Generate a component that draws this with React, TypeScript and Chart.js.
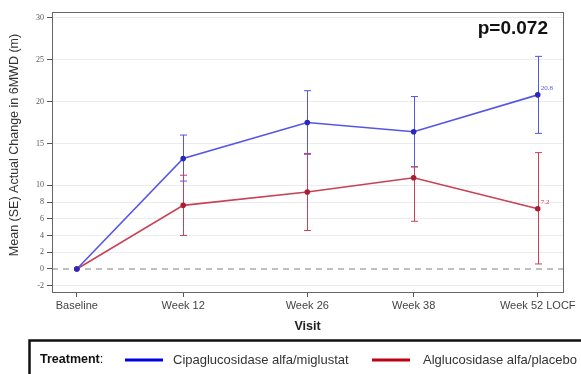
import React, { useEffect, useRef } from 'react';
import { Chart, registerables } from 'chart.js';

Chart.register(...registerables);

const visitWeeks = [0, 12, 26, 38, 52];
const visitLabels = ['Baseline', 'Week 12', 'Week 26', 'Week 38', 'Week 52 LOCF'];
const yTickValues = [-2, 0, 2, 4, 6, 8, 10, 15, 20, 25, 30];

const cipaMean = [0, 13.2, 17.5, 16.4, 20.8];
const cipaLow = [0, 10.5, 13.7, 12.2, 16.2];
const cipaHigh = [0, 16.0, 21.3, 20.6, 25.4];

const algluMean = [0, 7.6, 9.2, 10.9, 7.2];
const algluLow = [0, 4.0, 4.6, 5.7, 0.6];
const algluHigh = [0, 11.2, 13.8, 12.2, 13.9];

const seriesNames = ['Cipaglucosidase alfa/miglustat', 'Alglucosidase alfa/placebo'];
const endLabels = ['20.8', '7.2'];
const pValueText = 'p=0.072';

const BLUE_LINE = 'rgb(85,85,230)';
const BLUE_POINT = 'rgb(40,40,190)';
const RED_LINE = 'rgb(200,65,85)';
const RED_POINT = 'rgb(170,30,50)';

export default function App() {
  const ref = useRef<HTMLCanvasElement>(null);

  useEffect(() => {
    const canvas = ref.current;
    if (!canvas) return;

    const series = [
      { mean: cipaMean, low: cipaLow, high: cipaHigh, color: BLUE_LINE, label: endLabels[0] },
      { mean: algluMean, low: algluLow, high: algluHigh, color: RED_LINE, label: endLabels[1] },
    ];

    const overlay = {
      id: 'overlay',
      beforeDatasetsDraw(chart: any) {
        const { ctx, chartArea, scales } = chart;
        const xs = scales.x;
        const ys = scales.y;
        ctx.save();
        // zero reference line
        const y0 = ys.getPixelForValue(0);
        ctx.strokeStyle = '#aaaaaa';
        ctx.lineWidth = 1.3;
        ctx.setLineDash([6, 5]);
        ctx.beginPath();
        ctx.moveTo(chartArea.left, y0);
        ctx.lineTo(chartArea.right, y0);
        ctx.stroke();
        ctx.setLineDash([]);
        // error bars
        series.forEach((s) => {
          ctx.strokeStyle = s.color;
          ctx.lineWidth = 1;
          visitWeeks.forEach((w, i) => {
            if (s.low[i] === s.high[i]) return;
            const px = Math.round(xs.getPixelForValue(w)) + 0.5;
            const pLo = ys.getPixelForValue(s.low[i]);
            const pHi = ys.getPixelForValue(s.high[i]);
            ctx.beginPath();
            ctx.moveTo(px, pLo);
            ctx.lineTo(px, pHi);
            ctx.moveTo(px - 3.5, pLo);
            ctx.lineTo(px + 3.5, pLo);
            ctx.moveTo(px - 3.5, pHi);
            ctx.lineTo(px + 3.5, pHi);
            ctx.stroke();
          });
        });
        ctx.restore();
      },
      afterDraw(chart: any) {
        const { ctx, chartArea, scales } = chart;
        const xs = scales.x;
        const ys = scales.y;
        ctx.save();
        // plot frame
        ctx.strokeStyle = '#666666';
        ctx.lineWidth = 1;
        ctx.strokeRect(
          Math.round(chartArea.left) + 0.5,
          Math.round(chartArea.top) + 0.5,
          Math.round(chartArea.right - chartArea.left),
          Math.round(chartArea.bottom - chartArea.top)
        );
        // end labels
        ctx.font = '7px "Liberation Serif"';
        ctx.textAlign = 'left';
        ctx.textBaseline = 'middle';
        series.forEach((s) => {
          const last = visitWeeks.length - 1;
          const px = xs.getPixelForValue(visitWeeks[last]);
          const py = ys.getPixelForValue(s.mean[last]);
          ctx.fillStyle = s.color;
          ctx.fillText(s.label, px + 3, py - 7);
        });
        // p value
        ctx.fillStyle = '#111111';
        ctx.font = 'bold 19px "Liberation Sans"';
        ctx.textAlign = 'right';
        ctx.fillText(pValueText, 548, 29);
        // y title
        ctx.save();
        ctx.translate(15, 145);
        ctx.rotate(-Math.PI / 2);
        ctx.font = '12.5px "Liberation Sans"';
        ctx.fillStyle = '#333333';
        ctx.textAlign = 'center';
        ctx.textBaseline = 'middle';
        ctx.fillText('Mean (SE) Actual Change in 6MWD (m)', 0, 0);
        ctx.restore();
        // x title
        ctx.font = 'bold 12.5px "Liberation Sans"';
        ctx.fillStyle = '#222222';
        ctx.textAlign = 'center';
        ctx.textBaseline = 'middle';
        ctx.fillText('Visit', (chartArea.left + chartArea.right) / 2, 327);
        // legend box
        ctx.strokeStyle = '#111111';
        ctx.lineWidth = 2.5;
        ctx.strokeRect(29.5, 340.5, 600, 80);
        ctx.textAlign = 'left';
        ctx.textBaseline = 'middle';
        ctx.fillStyle = '#111111';
        ctx.font = 'bold 12.5px "Liberation Sans"';
        ctx.fillText('Treatment', 40, 360);
        const tw = ctx.measureText('Treatment').width;
        ctx.font = '12.5px "Liberation Sans"';
        ctx.fillText(':', 40 + tw, 360);
        ctx.lineWidth = 3;
        ctx.strokeStyle = '#0000e6';
        ctx.beginPath();
        ctx.moveTo(125, 360);
        ctx.lineTo(163, 360);
        ctx.stroke();
        ctx.font = '13px "Liberation Sans"';
        ctx.fillStyle = '#333333';
        ctx.fillText(seriesNames[0], 173, 360);
        ctx.strokeStyle = '#c00010';
        ctx.beginPath();
        ctx.moveTo(372, 360);
        ctx.lineTo(410, 360);
        ctx.stroke();
        ctx.fillText(seriesNames[1], 423, 360);
        ctx.restore();
      },
    };

    const chart = new Chart(canvas, {
      type: 'line',
      data: {
        datasets: [
          {
            label: seriesNames[0],
            data: visitWeeks.map((w, i) => ({ x: w, y: cipaMean[i] })),
            borderColor: BLUE_LINE,
            backgroundColor: BLUE_POINT,
            pointBackgroundColor: BLUE_POINT,
            pointBorderColor: BLUE_POINT,
            borderWidth: 1.6,
            pointRadius: 2,
            tension: 0,
          },
          {
            label: seriesNames[1],
            data: visitWeeks.map((w, i) => ({ x: w, y: algluMean[i] })),
            borderColor: RED_LINE,
            backgroundColor: RED_POINT,
            pointBackgroundColor: RED_POINT,
            pointBorderColor: RED_POINT,
            borderWidth: 1.6,
            pointRadius: 2,
            tension: 0,
          },
        ],
      },
      options: {
        animation: false,
        responsive: true,
        maintainAspectRatio: false,
        layout: { padding: { top: 12, right: 18, left: 0, bottom: 0 } },
        plugins: {
          legend: { display: false },
          tooltip: { enabled: false },
        },
        scales: {
          x: {
            type: 'linear',
            min: -2.8,
            max: 54.85,
            afterBuildTicks: (s: any) => {
              s.ticks = visitWeeks.map((v) => ({ value: v }));
            },
            afterFit: (s: any) => {
              s.height = 82;
            },
            ticks: {
              autoSkip: false,
              maxRotation: 0,
              padding: 2,
              color: '#444444',
              font: { family: '"Liberation Sans"', size: 11 },
              callback: (v: any) => {
                const idx = visitWeeks.indexOf(Number(v));
                return idx >= 0 ? visitLabels[idx] : '';
              },
            },
            grid: { drawOnChartArea: false, tickLength: 5, color: '#555555' },
            border: { color: '#666666' },
          },
          y: {
            type: 'linear',
            min: -2.75,
            max: 30.7,
            afterBuildTicks: (s: any) => {
              s.ticks = yTickValues.map((v) => ({ value: v }));
            },
            afterFit: (s: any) => {
              s.width = 52;
            },
            ticks: {
              autoSkip: false,
              padding: 3,
              color: '#555555',
              font: { family: '"Liberation Serif"', size: 8 },
            },
            grid: {
              color: (c: any) => (c.tick && c.tick.value === 0 ? 'rgba(0,0,0,0)' : '#ececec'),
              tickColor: '#555555',
              tickLength: 5,
            },
            border: { color: '#666666' },
          },
        },
      },
      plugins: [overlay],
    });

    return () => chart.destroy();
  }, []);

  return (
    <div style={{ position: 'fixed', left: 0, top: 0, width: 581, height: 374, background: '#ffffff' }}>
      <canvas ref={ref} />
    </div>
  );
}
